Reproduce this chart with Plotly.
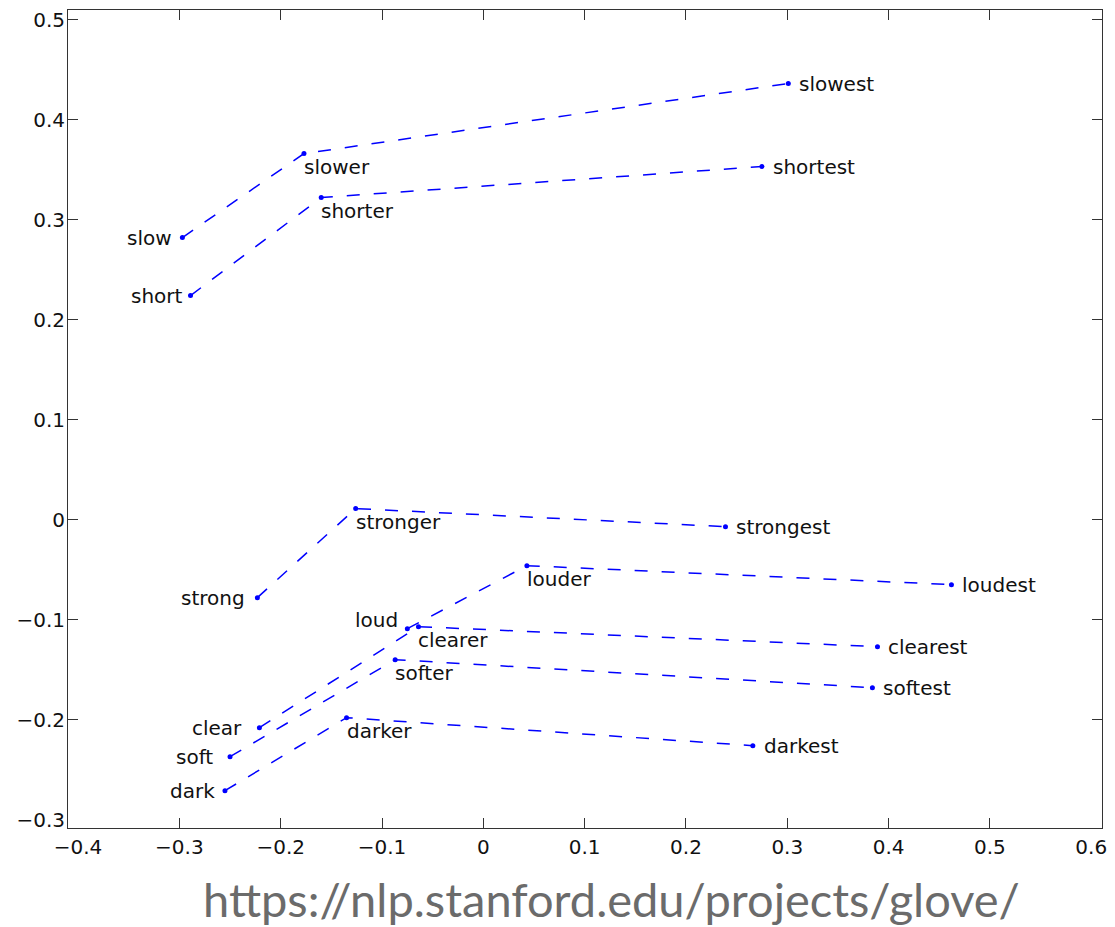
import plotly.graph_objects as go

# Word vectors projected to 2-D: base adjective, comparative, superlative
base_words = ["slow", "short", "strong", "loud", "clear", "soft", "dark"]
comp_words = ["slower", "shorter", "stronger", "louder", "clearer", "softer", "darker"]
sup_words = ["slowest", "shortest", "strongest", "loudest", "clearest", "softest", "darkest"]

base_x = [-0.297, -0.289, -0.223, -0.075, -0.221, -0.250, -0.255]
base_y = [0.282, 0.224, -0.078, -0.109, -0.208, -0.237, -0.271]
comp_x = [-0.177, -0.160, -0.126, 0.043, -0.064, -0.087, -0.135]
comp_y = [0.366, 0.322, 0.011, -0.046, -0.107, -0.140, -0.198]
sup_x = [0.301, 0.275, 0.239, 0.462, 0.389, 0.384, 0.266]
sup_y = [0.436, 0.353, -0.007, -0.065, -0.127, -0.168, -0.226]

# labelled values, and the subset that carries a tick mark
x_ticks = [-0.4, -0.3, -0.2, -0.1, 0, 0.1, 0.2, 0.3, 0.4, 0.5, 0.6]
y_ticks = [-0.3, -0.2, -0.1, 0, 0.1, 0.2, 0.3, 0.4, 0.5]
x_marks = [-0.3, -0.2, -0.1, 0, 0.1, 0.2, 0.3, 0.4, 0.5]
y_marks = [-0.2, -0.1, 0, 0.1, 0.2, 0.3, 0.4, 0.5]

source_url = "https://nlp.stanford.edu/projects/glove/"

LINE = "#0000ff"
FONT = "DejaVu Sans"
X_RANGE = [-0.4099, 0.6106]
Y_RANGE = [-0.3083, 0.5095]

# label placement for the base words (gap to the left of the dot, vertical nudge)
base_gap = {"slow": 8, "short": 6, "strong": 10, "loud": 7, "clear": 15, "soft": 15, "dark": 8}
base_lift = {"loud": 9}

fig = go.Figure()

for i in range(len(base_words)):
    fig.add_trace(go.Scatter(
        x=[base_x[i], comp_x[i], sup_x[i]],
        y=[base_y[i], comp_y[i], sup_y[i]],
        mode="lines+markers",
        line=dict(color=LINE, width=1.5, dash="13px,14px"),
        marker=dict(color=LINE, size=5),
        showlegend=False,
        hoverinfo="skip",
    ))

# transparent anchor so the labelling axes get drawn
fig.add_trace(go.Scatter(x=[0], y=[0], xaxis="x2", yaxis="y2", mode="markers",
                         marker=dict(opacity=0), showlegend=False, hoverinfo="skip"))

annotations = []
for i, w in enumerate(base_words):
    annotations.append(dict(
        x=base_x[i], y=base_y[i], xref="x", yref="y", text=w,
        showarrow=False, xanchor="right", yanchor="middle",
        xshift=-base_gap[w], yshift=base_lift.get(w, 0),
        font=dict(family=FONT, size=20, color="#111111"),
    ))
for i, w in enumerate(comp_words):
    annotations.append(dict(
        x=comp_x[i], y=comp_y[i], xref="x", yref="y", text=w,
        showarrow=False, xanchor="left", yanchor="middle",
        xshift=-2, yshift=-13,
        font=dict(family=FONT, size=20, color="#111111"),
    ))
for i, w in enumerate(sup_words):
    annotations.append(dict(
        x=sup_x[i], y=sup_y[i], xref="x", yref="y", text=w,
        showarrow=False, xanchor="left", yanchor="middle",
        xshift=9, yshift=0,
        font=dict(family=FONT, size=20, color="#111111"),
    ))

annotations.append(dict(
    x=0.5255, y=-0.087, xref="paper", yref="paper", text=source_url,
    showarrow=False, xanchor="center", yanchor="middle",
    font=dict(family="Lato", size=47, color="#6b6b6b"),
))

# main axes: frame and inside tick marks
mark_axis = dict(
    showgrid=False, zeroline=False,
    showline=True, linecolor="#333333", linewidth=1.2, mirror="ticks",
    ticks="inside", ticklen=10, tickwidth=1, tickcolor="#333333",
    showticklabels=False,
)
# overlaid axes: numeric labels only
label_axis = dict(
    showgrid=False, zeroline=False, showline=False, ticks="",
    tickfont=dict(family=FONT, size=20, color="#111111"),
)

fig.update_layout(
    width=1115, height=927,
    margin=dict(l=68, r=9, t=8, b=99),
    paper_bgcolor="white", plot_bgcolor="white",
    xaxis=dict(range=X_RANGE, tickvals=x_marks, **mark_axis),
    yaxis=dict(range=Y_RANGE, tickvals=y_marks, **mark_axis),
    xaxis2=dict(range=X_RANGE, tickvals=x_ticks, overlaying="x", side="bottom",
                anchor="y2", ticklabelstandoff=5, **label_axis),
    yaxis2=dict(range=Y_RANGE, tickvals=y_ticks, overlaying="y", side="left",
                anchor="x2", ticklabelstandoff=2, **label_axis),
    annotations=annotations,
)

fig.write_html("out.html")
